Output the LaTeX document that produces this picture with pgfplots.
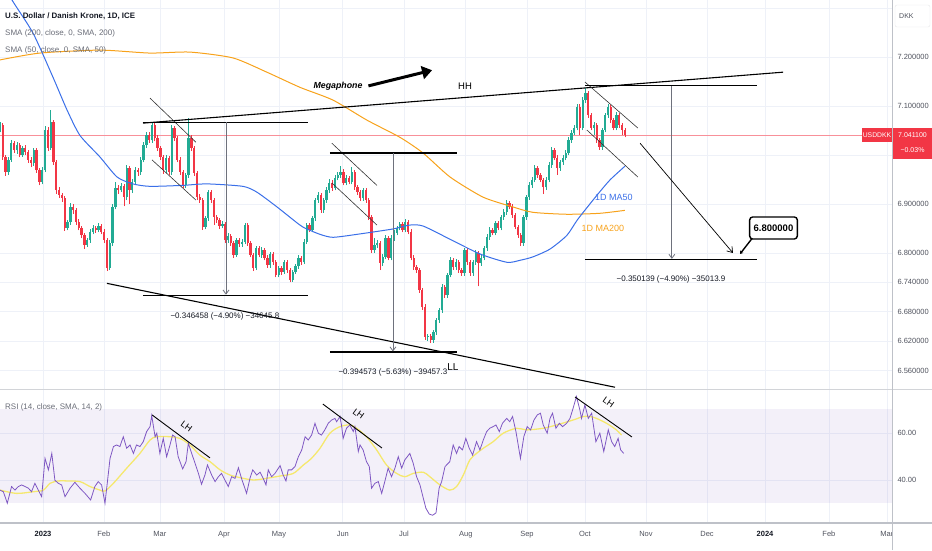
\documentclass[border=0pt]{standalone}
\usepackage{pgfplots}
\pgfplotsset{compat=1.18}
\usepackage{pgfplotstable}
\usepackage{fontspec}
\setmainfont{Liberation Sans}
\usetikzlibrary{arrows.meta}
\definecolor{upc}{RGB}{34,171,148}
\definecolor{dnc}{RGB}{242,54,69}
\definecolor{gridc}{RGB}{238,241,248}
\definecolor{ma50}{RGB}{58,111,232}
\definecolor{ma200}{RGB}{247,162,27}
\definecolor{rsic}{RGB}{126,87,194}
\definecolor{rsima}{RGB}{245,232,110}
\definecolor{labc}{RGB}{80,83,94}
\definecolor{txtg}{RGB}{106,109,120}
\definecolor{axc}{RGB}{190,193,200}
\definecolor{measc}{RGB}{110,113,124}
\definecolor{darkt}{RGB}{19,23,34}
\newcommand\fs[1]{\fontsize{#1}{#1}\selectfont}

\pgfplotsset{
  upc/.style={restrict expr to domain={\thisrow{d}}{0.5:1.5}},
  dnc/.style={restrict expr to domain={\thisrow{d}}{-0.5:0.5}},
}

\pgfplotstableread{
i o h l c d
0 7.051 7.068 7.046 7.061 1
1 7.061 7.066 6.990 6.996 0
2 6.996 7.000 6.958 6.965 0
3 6.965 6.995 6.960 6.990 1
4 6.990 7.030 6.986 7.024 1
5 7.024 7.029 7.004 7.010 0
6 7.010 7.026 7.003 7.020 1
7 7.020 7.024 6.995 7.000 0
8 7.000 7.019 6.996 7.014 1
9 7.014 7.020 7.000 7.006 0
10 7.006 7.010 6.984 6.990 0
11 6.990 6.996 6.975 6.983 0
12 6.983 7.015 6.978 7.010 1
13 7.010 7.014 6.964 6.969 0
14 6.969 6.974 6.938 6.945 0
15 6.945 6.975 6.940 6.969 1
16 6.969 7.060 6.965 7.051 1
17 7.051 7.057 7.008 7.014 0
18 7.014 7.092 7.010 7.067 1
19 7.067 7.072 6.980 6.985 0
20 6.985 6.990 6.920 6.928 0
21 6.928 6.935 6.912 6.918 0
22 6.918 6.922 6.905 6.912 0
23 6.912 6.916 6.845 6.851 0
24 6.851 6.868 6.846 6.863 1
25 6.863 6.902 6.858 6.894 1
26 6.894 6.899 6.880 6.887 0
27 6.887 6.892 6.857 6.863 0
28 6.863 6.869 6.846 6.851 0
29 6.851 6.856 6.830 6.836 0
30 6.836 6.840 6.809 6.816 0
31 6.816 6.831 6.812 6.826 1
32 6.826 6.848 6.821 6.843 1
33 6.843 6.857 6.838 6.851 1
34 6.851 6.856 6.841 6.847 0
35 6.847 6.862 6.842 6.855 1
36 6.855 6.860 6.838 6.843 0
37 6.843 6.848 6.820 6.826 0
38 6.826 6.830 6.763 6.769 0
39 6.769 6.826 6.765 6.820 1
40 6.820 6.900 6.815 6.894 1
41 6.894 6.945 6.889 6.932 1
42 6.932 6.938 6.920 6.928 0
43 6.928 6.943 6.924 6.936 1
44 6.936 6.940 6.895 6.914 0
45 6.914 6.980 6.908 6.973 1
46 6.973 6.978 6.900 6.928 0
47 6.928 6.950 6.922 6.945 1
48 6.945 6.975 6.940 6.969 1
49 6.969 6.974 6.958 6.965 0
50 6.965 6.995 6.960 6.990 1
51 6.990 7.026 6.985 7.020 1
52 7.020 7.047 7.015 7.041 1
53 7.041 7.046 7.024 7.030 0
54 7.030 7.067 7.025 7.061 1
55 7.061 7.065 7.028 7.034 0
56 7.034 7.040 7.008 7.014 0
57 7.014 7.019 6.990 6.996 0
58 6.996 7.000 6.962 6.969 0
59 6.969 6.999 6.964 6.994 1
60 6.994 6.998 6.959 6.965 0
61 6.965 7.061 6.960 7.055 1
62 7.055 7.060 7.029 7.034 0
63 7.034 7.038 6.985 6.990 0
64 6.990 6.995 6.960 6.965 0
65 6.965 6.970 6.933 6.938 0
66 6.938 6.964 6.933 6.959 1
67 6.959 7.075 6.954 7.034 1
68 7.034 7.040 7.008 7.014 0
69 7.014 7.018 6.958 6.963 0
70 6.963 6.968 6.908 6.914 0
71 6.914 6.920 6.902 6.908 0
72 6.908 6.912 6.847 6.853 0
73 6.853 6.876 6.848 6.871 1
74 6.871 6.929 6.866 6.924 1
75 6.924 6.928 6.902 6.908 0
76 6.908 6.912 6.858 6.873 0
77 6.873 6.878 6.861 6.867 0
78 6.867 6.871 6.849 6.855 0
79 6.855 6.866 6.850 6.859 1
80 6.859 6.864 6.820 6.826 0
81 6.826 6.840 6.821 6.834 1
82 6.834 6.839 6.815 6.820 0
83 6.820 6.825 6.790 6.796 0
84 6.796 6.831 6.792 6.826 1
85 6.826 6.830 6.813 6.818 0
86 6.818 6.828 6.813 6.822 1
87 6.822 6.862 6.818 6.857 1
88 6.857 6.861 6.815 6.820 0
89 6.820 6.825 6.791 6.796 0
90 6.796 6.800 6.763 6.769 0
91 6.769 6.815 6.765 6.810 1
92 6.810 6.814 6.791 6.796 0
93 6.796 6.812 6.790 6.806 1
94 6.806 6.810 6.785 6.790 0
95 6.790 6.795 6.770 6.775 0
96 6.775 6.803 6.770 6.798 1
97 6.798 6.802 6.776 6.781 0
98 6.781 6.786 6.750 6.755 0
99 6.755 6.774 6.750 6.769 1
100 6.769 6.774 6.756 6.761 0
101 6.761 6.786 6.757 6.781 1
102 6.781 6.785 6.760 6.765 0
103 6.765 6.770 6.740 6.745 0
104 6.745 6.766 6.741 6.761 1
105 6.761 6.778 6.757 6.773 1
106 6.773 6.795 6.768 6.790 1
107 6.790 6.794 6.776 6.781 0
108 6.781 6.828 6.777 6.822 1
109 6.822 6.862 6.818 6.857 1
110 6.857 6.861 6.842 6.847 0
111 6.847 6.876 6.842 6.871 1
112 6.871 6.913 6.866 6.908 1
113 6.908 6.924 6.903 6.918 1
114 6.918 6.923 6.882 6.887 0
115 6.887 6.913 6.882 6.908 1
116 6.908 6.934 6.903 6.928 1
117 6.928 6.950 6.923 6.943 1
118 6.943 6.948 6.927 6.932 0
119 6.932 6.960 6.928 6.953 1
120 6.953 6.965 6.948 6.959 1
121 6.959 6.978 6.954 6.965 1
122 6.965 6.972 6.938 6.943 0
123 6.943 6.960 6.938 6.953 1
124 6.953 6.958 6.940 6.945 0
125 6.945 6.975 6.940 6.965 1
126 6.965 6.970 6.929 6.934 0
127 6.934 6.939 6.918 6.924 0
128 6.924 6.928 6.906 6.912 0
129 6.912 6.933 6.907 6.928 1
130 6.928 6.932 6.903 6.908 0
131 6.908 6.913 6.867 6.873 0
132 6.873 6.878 6.800 6.806 0
133 6.806 6.830 6.800 6.816 1
134 6.816 6.826 6.810 6.820 1
135 6.820 6.825 6.765 6.779 0
136 6.779 6.797 6.774 6.792 1
137 6.792 6.836 6.787 6.830 1
138 6.830 6.835 6.785 6.790 0
139 6.790 6.836 6.785 6.830 1
140 6.830 6.846 6.825 6.841 1
141 6.841 6.856 6.836 6.851 1
142 6.851 6.864 6.846 6.859 1
143 6.859 6.863 6.842 6.847 0
144 6.847 6.869 6.842 6.863 1
145 6.863 6.868 6.838 6.843 0
146 6.843 6.848 6.785 6.790 0
147 6.790 6.795 6.766 6.771 0
148 6.771 6.776 6.759 6.765 0
149 6.765 6.770 6.719 6.724 0
150 6.724 6.729 6.684 6.690 0
151 6.690 6.695 6.622 6.628 0
152 6.628 6.635 6.620 6.630 1
153 6.630 6.634 6.616 6.622 0
154 6.622 6.643 6.617 6.638 1
155 6.638 6.668 6.633 6.663 1
156 6.663 6.688 6.658 6.683 1
157 6.683 6.736 6.678 6.730 1
158 6.730 6.735 6.708 6.714 0
159 6.714 6.760 6.709 6.755 1
160 6.755 6.791 6.750 6.785 1
161 6.785 6.790 6.765 6.771 0
162 6.771 6.787 6.766 6.781 1
163 6.781 6.786 6.760 6.765 0
164 6.765 6.770 6.754 6.759 0
165 6.759 6.811 6.754 6.806 1
166 6.806 6.811 6.776 6.781 0
167 6.781 6.786 6.754 6.759 0
168 6.759 6.786 6.754 6.781 1
169 6.781 6.806 6.776 6.800 1
170 6.800 6.805 6.732 6.779 0
171 6.779 6.795 6.774 6.790 1
172 6.790 6.815 6.785 6.810 1
173 6.810 6.838 6.805 6.832 1
174 6.832 6.853 6.827 6.847 1
175 6.847 6.852 6.836 6.841 0
176 6.841 6.866 6.836 6.861 1
177 6.861 6.866 6.846 6.851 0
178 6.851 6.878 6.846 6.873 1
179 6.873 6.889 6.868 6.883 1
180 6.883 6.908 6.878 6.902 1
181 6.902 6.907 6.889 6.894 0
182 6.894 6.899 6.872 6.877 0
183 6.877 6.882 6.848 6.853 0
184 6.853 6.858 6.831 6.836 0
185 6.836 6.841 6.814 6.820 0
186 6.820 6.878 6.815 6.873 1
187 6.873 6.919 6.868 6.914 1
188 6.914 6.944 6.909 6.938 1
189 6.938 6.955 6.933 6.949 1
190 6.949 6.979 6.944 6.973 1
191 6.973 6.978 6.954 6.959 0
192 6.959 6.964 6.944 6.949 0
193 6.949 6.954 6.920 6.934 0
194 6.934 6.955 6.929 6.949 1
195 6.949 6.985 6.944 6.979 1
196 6.979 7.016 6.974 7.010 1
197 7.010 7.015 6.989 6.994 0
198 6.994 6.999 6.960 6.973 0
199 6.973 6.990 6.968 6.985 1
200 6.985 6.999 6.980 6.994 1
201 6.994 7.010 6.989 7.004 1
202 7.004 7.036 6.999 7.030 1
203 7.030 7.051 7.025 7.045 1
204 7.045 7.061 7.040 7.055 1
205 7.055 7.104 7.050 7.098 1
206 7.098 7.104 7.040 7.055 0
207 7.055 7.118 7.050 7.112 1
208 7.112 7.136 7.107 7.126 1
209 7.126 7.131 7.076 7.081 0
210 7.081 7.086 7.050 7.055 0
211 7.055 7.067 7.040 7.061 1
212 7.061 7.066 7.025 7.030 0
213 7.030 7.035 7.011 7.016 0
214 7.016 7.056 7.011 7.051 1
215 7.051 7.086 7.046 7.081 1
216 7.081 7.104 7.076 7.098 1
217 7.098 7.103 7.066 7.071 0
218 7.071 7.076 7.050 7.055 0
219 7.055 7.087 7.050 7.081 1
220 7.081 7.086 7.056 7.061 0
221 7.061 7.066 7.040 7.051 0
222 7.051 7.056 7.036 7.041 0
}\candles

\begin{document}
\begin{tikzpicture}
\path[use as bounding box] (0pt,0pt) rectangle (932pt,550pt);

% ---------------- price pane ----------------
\begin{axis}[
  at={(0pt,161pt)}, anchor=south west,
  width=892pt, height=389pt, scale only axis,
  xmin=0, xmax=316.9, ymin=6.5224, ymax=7.3163,
  axis line style={draw=none},
  major tick length=0pt,
  xtick={15.3,36.9,56.8,79.6,99.1,121.8,143.5,165.5,187.2,207.8,229.5,251.2,271.8,294.5,315.1},
  xticklabels={},
  ytick={6.56,6.62,6.68,6.74,6.8,6.9,7.0,7.1,7.2,7.3},
  yticklabels={6.560000,6.620000,6.680000,6.740000,6.800000,6.900000,7.000000,7.100000,7.200000,{}},
  yticklabel pos=right,
  yticklabel style={font=\fs{7.5}, text=labc, anchor=west, xshift=2pt},
  grid=major, major grid style={draw=gridc, line width=0.7pt},
  clip=true,
]
% last price line
\addplot[dnc!55, line width=0.7pt, forget plot] coordinates {(0,7.041) (316.9,7.041)};

% wicks (low to high) and bodies (open to close)
\addplot[forget plot, draw=upc, line width=0.7pt, mark=none, -, upc,
  quiver={u=0, v=\thisrow{h}-\thisrow{l}}] table[x=i, y=l] {\candles};
\addplot[forget plot, draw=dnc, line width=0.7pt, mark=none, -, dnc,
  quiver={u=0, v=\thisrow{h}-\thisrow{l}}] table[x=i, y=l] {\candles};
\addplot[forget plot, draw=upc, line width=2.3pt, mark=none, -, upc,
  quiver={u=0, v=\thisrow{c}-\thisrow{o}}] table[x=i, y=o] {\candles};
\addplot[forget plot, draw=dnc, line width=2.3pt, mark=none, -, dnc,
  quiver={u=0, v=\thisrow{c}-\thisrow{o}}] table[x=i, y=o] {\candles};

% SMA 200
\addplot[ma200, line width=1pt, smooth, tension=0.4] coordinates {
(0,7.194) (14.2,7.208) (35.5,7.214) (53.3,7.208) (67.5,7.210) (82.8,7.198) (94.8,7.169)
(106.6,7.138) (118.3,7.112) (130.4,7.071) (142.1,7.036) (150.3,7.004) (159.9,6.955)
(171.6,6.914) (182.2,6.894) (189.3,6.883) (201.4,6.879) (213.1,6.881) (222.0,6.887)};
% SMA 50
\addplot[ma50, line width=1pt, smooth, tension=0.4] coordinates {
(2.8,7.340) (4.3,7.316) (11.7,7.249) (18.8,7.159) (23.8,7.092) (28.4,7.040) (35.5,6.996)
(41.6,6.955) (47.2,6.941) (53.3,6.936) (65.0,6.938) (73.5,6.941) (86.3,6.936) (91.3,6.924)
(98.4,6.894) (103.0,6.873) (107.6,6.853) (113.7,6.838) (118.3,6.832) (126.8,6.838)
(139.6,6.849) (145.6,6.857) (150.3,6.855) (159.9,6.828) (170.5,6.798) (180.1,6.781)
(184.7,6.785) (189.3,6.792) (195.4,6.808) (201.4,6.836) (205.3,6.869) (212.1,6.918)
(216.7,6.949) (222.0,6.977)};

% megaphone
\draw[black, line width=1.1pt] (axis cs:50.8,7.065) -- (axis cs:278.2,7.169);
\draw[black, line width=1.1pt] (axis cs:38.0,6.738) -- (axis cs:218.5,6.526);
% channels
\draw[black!80, line width=0.6pt] (axis cs:53.3,7.116) -- (axis cs:69.6,7.026);
\draw[black!80, line width=0.6pt] (axis cs:54.0,6.990) -- (axis cs:69.6,6.908);
\draw[black!80, line width=0.6pt] (axis cs:117.9,7.024) -- (axis cs:133.9,6.938);
\draw[black!80, line width=0.6pt] (axis cs:117.9,6.943) -- (axis cs:133.9,6.857);
\draw[black!80, line width=0.6pt] (axis cs:207.8,7.149) -- (axis cs:226.6,7.055);
\draw[black!80, line width=0.6pt] (axis cs:208.5,7.051) -- (axis cs:226.6,6.955);
% measurements
\draw[black, line width=1.1pt] (axis cs:50.8,7.067) -- (axis cs:109.4,7.067);
\draw[black, line width=1.1pt] (axis cs:50.8,6.714) -- (axis cs:109.4,6.714);
\draw[measc, line width=0.8pt, -{Straight Barb[length=4pt,width=6pt]}] (axis cs:80.3,7.067) -- (axis cs:80.3,6.715);
\node[font=\fs{8}, text=darkt] at (axis cs:79.9,6.671) {−0.346458 (−4.90\%) −34645.8};

\draw[black, line width=1.1pt] (axis cs:117.2,7.004) -- (axis cs:162.3,7.004);
\draw[black, line width=1.1pt] (axis cs:117.2,6.598) -- (axis cs:162.3,6.598);
\draw[measc, line width=0.8pt, -{Straight Barb[length=4pt,width=6pt]}] (axis cs:139.6,7.004) -- (axis cs:139.6,6.599);
\node[font=\fs{8}, text=darkt] at (axis cs:139.6,6.557) {−0.394573 (−5.63\%) −39457.3};

\draw[black, line width=1.1pt] (axis cs:207.8,7.141) -- (axis cs:268.9,7.141);
\draw[black, line width=1.1pt] (axis cs:207.8,6.787) -- (axis cs:268.9,6.787);
\draw[measc, line width=0.8pt, -{Straight Barb[length=4pt,width=6pt]}] (axis cs:238.7,7.141) -- (axis cs:238.7,6.788);
\node[font=\fs{8}, text=darkt] at (axis cs:238.4,6.745) {−0.350139 (−4.90\%) −35013.9};

% projection and target
\draw[black, line width=0.7pt, -{Straight Barb[length=5pt,width=7pt]}] (axis cs:227.4,7.024) -- (axis cs:260.4,6.800);
\draw[black, line width=1.4pt, -{Stealth[length=3pt,width=4pt]}] (axis cs:267.5,6.832) -- (axis cs:262.9,6.798);
\node[draw=black, line width=1.4pt, rounded corners=3pt, fill=white, font=\fs{9.5}\bfseries,
  minimum height=22pt, inner xsep=4pt] at (axis cs:274.8,6.851) {6.800000};

% texts
\node[font=\fs{8.8}\bfseries\itshape] at (axis cs:120.1,7.141) {Megaphone};
\draw[black, line width=3pt, -{Triangle[length=10pt,width=13pt]}] (axis cs:130.9,7.141) -- (axis cs:153.5,7.173);
\node[font=\fs{9.5}] at (axis cs:165.2,7.141) {HH};
\node[font=\fs{10}] at (axis cs:160.9,6.567) {LL};
\node[font=\fs{9}, text=ma50] at (axis cs:218.1,6.914) {1D MA50};
\node[font=\fs{9}, text=ma200] at (axis cs:214.2,6.851) {1D MA200};
\end{axis}

% ---------------- RSI pane ----------------
\begin{axis}[
  at={(0pt,27pt)}, anchor=south west,
  width=892pt, height=134pt, scale only axis,
  xmin=0, xmax=316.9, ymin=21.7, ymax=78.7,
  axis line style={draw=none},
  major tick length=0pt,
  xtick={15.3,36.9,56.8,79.6,99.1,121.8,143.5,165.5,187.2,207.8,229.5,251.2,271.8,294.5,315.1},
  xticklabels={{\color{darkt}\bfseries 2023},Feb,Mar,Apr,May,Jun,Jul,Aug,Sep,Oct,Nov,Dec,{\color{darkt}\bfseries 2024},Feb,Mar},
  xticklabel style={font=\fs{7.5}, text=labc, yshift=-4.5pt},
  ytick={40,60}, yticklabels={40.00,60.00},
  yticklabel pos=right,
  yticklabel style={font=\fs{7.5}, text=labc, anchor=west, xshift=2pt},
  grid=major, major grid style={draw=gridc, line width=0.7pt},
  clip=true,
]
\fill[rsic, fill opacity=0.09] (axis cs:0,30) rectangle (axis cs:316.9,70);
\addplot[rsima, line width=1.3pt, smooth, tension=0.5] coordinates {
(0,35.7) (5.9,34.3) (11.8,35.0) (15.4,35.7) (17.8,38.6) (20.7,39.6) (23.7,39.6) (28.4,39.3)
(32.0,37.2) (35.5,35.7) (37.3,35.3) (40.3,38.6) (45.0,45.0) (49.7,51.3) (53.3,57.0) (55.7,58.4)
(60.4,58.4) (63.9,57.7) (67.5,54.9) (71.0,50.6) (74.6,47.8) (78.2,44.3) (81.7,42.1) (85.3,41.0)
(90.0,40.0) (94.7,40.7) (99.5,41.7) (104.2,42.8) (107.8,46.4) (110.5,49.0) (113.7,53.5)
(117.2,59.9) (120.8,62.7) (124.3,63.4) (126.7,62.0) (130.2,58.4) (133.8,52.8) (137.3,46.4)
(140.9,42.8) (143.8,41.4) (146.8,42.8) (150.4,43.3) (152.7,41.4) (156.3,37.9) (159.8,35.7)
(162.2,37.2) (164.6,42.1) (166.9,48.5) (169.3,51.3) (171.7,53.5) (175.2,56.3) (178.8,59.9)
(183.5,62.0) (187.1,61.3) (193.0,62.0) (197.7,63.4) (202.5,65.1) (204.8,66.0) (207.2,67.0)
(209.6,67.0) (211.9,66.2) (215.5,64.1) (219.0,61.3) (220.8,59.1)};
\addplot[rsic, line width=0.8pt] coordinates {
(0,35.7) (1.2,35.0) (2.6,30.1) (4.1,37.2) (5.3,35.7) (6.5,37.2) (7.7,37.9) (8.9,37.2) (10.1,36.5)
(11.2,35.0) (12.4,38.6) (13.6,35.7) (14.8,32.9) (16.0,49.2) (17.2,44.3) (18.4,51.3) (19.5,39.9)
(20.7,38.6) (21.9,37.9) (23.1,32.9) (24.9,36.5) (26.6,39.0) (28.4,36.5) (30.2,34.3) (32.2,31.5)
(33.7,37.2) (34.9,39.3) (36.1,37.9) (37.3,30.1) (39.1,49.2) (40.3,54.2) (41.4,54.9) (42.6,54.2)
(43.8,58.4) (45.0,53.5) (46.2,54.9) (47.4,51.3) (48.5,54.9) (49.7,54.2) (50.9,56.3) (52.1,60.6)
(53.3,62.7) (53.9,67.4) (55.1,58.4) (55.7,59.9) (56.8,51.3) (58.0,57.7) (59.2,49.9) (60.4,54.9)
(61.3,59.1) (62.2,58.4) (63.3,49.9) (64.9,44.7) (66.1,47.8) (66.9,55.6) (68.1,51.3) (69.3,47.1)
(70.5,42.8) (71.6,38.2) (72.8,42.1) (73.7,46.4) (75.2,42.1) (76.4,39.3) (77.6,41.4) (78.7,42.8)
(79.9,40.0) (81.1,37.2) (82.3,41.4) (83.5,40.7) (84.7,45.2) (85.8,40.7) (87.6,34.3) (88.8,40.7)
(89.8,44.3) (91.2,42.1) (92.4,43.3) (93.5,40.7) (94.5,37.9) (95.3,44.3) (96.5,41.4) (97.7,42.8)
(99.5,46.1) (100.6,42.1) (101.6,39.6) (102.4,44.3) (103.6,44.3) (104.8,45.7) (106.0,49.9)
(107.2,52.8) (108.4,58.4) (109.5,57.0) (110.7,59.1) (111.9,64.1) (113.1,59.9) (114.2,59.1)
(115.4,61.3) (116.6,64.1) (117.8,65.5) (119.0,66.2) (119.6,64.8) (120.8,67.0) (121.4,62.7)
(121.9,57.7) (123.1,62.0) (124.3,63.4) (125.5,60.6) (126.1,62.7) (127.3,52.1) (127.9,54.9)
(129.0,52.8) (130.2,47.8) (131.2,45.7) (132.0,36.5) (133.2,38.6) (134.4,39.3) (135.6,34.3)
(136.7,39.3) (137.9,45.0) (139.1,41.4) (140.3,45.0) (141.5,49.9) (142.7,45.0) (143.8,48.5)
(145.6,51.3) (146.8,47.1) (148.0,41.4) (149.2,37.9) (150.4,32.2) (151.3,28.0) (152.5,25.5)
(153.7,25.0) (154.9,26.0) (156.0,36.5) (156.9,39.3) (158.1,45.7) (159.8,47.8) (161.0,54.9)
(162.2,51.3) (163.1,54.2) (164.3,52.8) (165.5,57.7) (166.7,53.5) (167.9,50.6) (169.3,56.3)
(170.5,52.8) (171.7,57.0) (172.9,60.6) (174.0,62.0) (175.2,62.7) (176.2,63.4) (177.4,60.6)
(178.5,64.1) (180.0,66.2) (181.1,64.8) (182.1,67.0) (183.3,60.6) (184.9,49.2) (186.1,58.4)
(187.3,62.7) (188.5,61.3) (189.7,65.5) (190.9,67.7) (192.0,68.4) (193.0,63.4) (194.4,59.9)
(195.4,66.2) (196.3,68.4) (197.5,62.0) (198.7,64.1) (199.9,62.7) (201.3,64.1) (202.5,66.2)
(203.6,70.5) (204.8,75.5) (206.0,69.8) (206.6,66.2) (207.8,71.9) (209.0,66.2) (210.2,68.4)
(211.7,56.3) (213.1,59.9) (214.5,52.1) (216.1,61.3) (217.3,56.3) (218.4,54.2) (219.6,57.7)
(220.5,52.8) (221.6,51.3)};
\draw[black, line width=0.9pt] (axis cs:54.0,67.7) -- (axis cs:74.6,49.4);
\draw[black, line width=0.9pt] (axis cs:114.7,72.3) -- (axis cs:135.7,53.6);
\draw[black, line width=0.9pt] (axis cs:204.3,75.3) -- (axis cs:224.5,58.3);
\node[font=\fs{9}, rotate=-36] at (axis cs:66.3,62.6) {LH};
\node[font=\fs{9}, rotate=-36] at (axis cs:127.4,68.1) {LH};
\node[font=\fs{9}, rotate=-35] at (axis cs:216.2,73.2) {LH};
\end{axis}

% ---------------- frame and overlays ----------------
\fill[white] (893pt,0pt) rectangle (932pt,26pt);
\draw[axc, line width=1.2pt] (0pt,27pt) -- (932pt,27pt);
\draw[axc!70, line width=1pt] (0pt,161pt) -- (932pt,161pt);
\draw[axc, line width=1pt] (892.5pt,0pt) -- (892.5pt,550pt);

\node[anchor=west, inner sep=0pt, font=\fs{7.9}\bfseries, text=darkt] at (5pt,534pt) {U.S. Dollar / Danish Krone, 1D, ICE};
\node[anchor=west, inner sep=0pt, font=\fs{8}, text=txtg] at (5pt,517pt) {SMA (200, close, 0, SMA, 200)};
\node[anchor=west, inner sep=0pt, font=\fs{8}, text=txtg] at (5pt,500pt) {SMA (50, close, 0, SMA, 50)};
\node[anchor=west, inner sep=0pt, font=\fs{8}, text=txtg] at (5pt,143pt) {RSI (14, close, SMA, 14, 2)};

\draw[draw=gridc!60!gray!40, fill=white, rounded corners=2pt] (895pt,523pt) rectangle (930pt,545pt);
\node[anchor=west, inner sep=0pt, font=\fs{7}, text=labc] at (899pt,534pt) {DKK};

\fill[dnc] (862pt,408pt) rectangle (892pt,422pt);
\node[font=\fs{6.8}, text=white, inner sep=0pt] at (877pt,415pt) {USDDKK};
\fill[dnc] (893pt,391pt) rectangle (932pt,422pt);
\node[font=\fs{7}, text=white, inner sep=0pt] at (912.5pt,415pt) {7.041100};
\node[font=\fs{7}, text=white, inner sep=0pt] at (912.5pt,400pt) {−0.03\%};
\end{tikzpicture}
\end{document}
